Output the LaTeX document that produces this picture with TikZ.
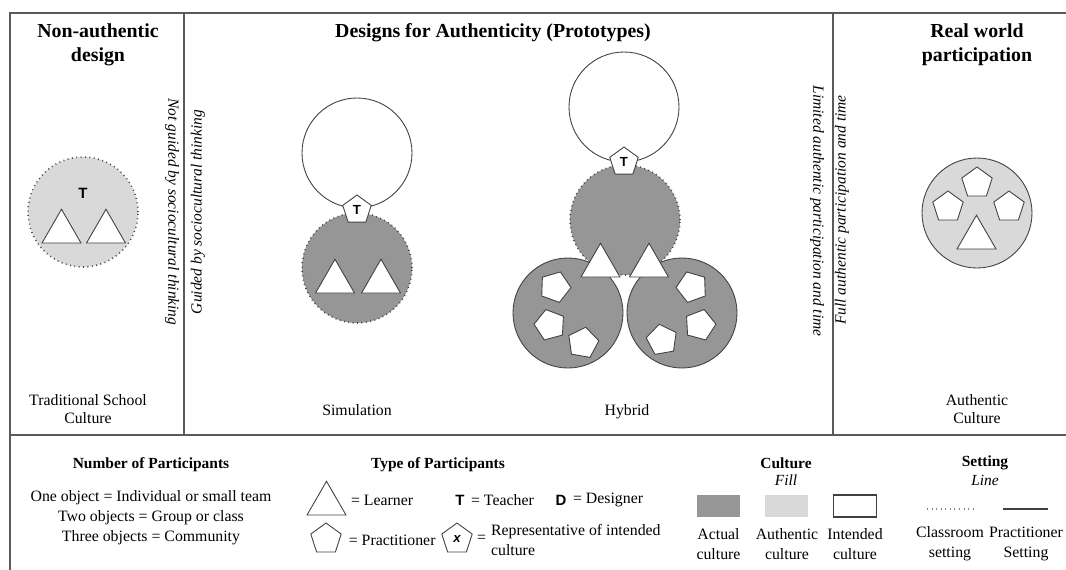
\documentclass[tikz,border=0pt]{standalone}
\usepackage{fontspec}
\setmainfont{Liberation Serif}
\newfontfamily\arialfont{Liberation Sans}
\definecolor{actualgrey}{RGB}{150, 150, 150}
\definecolor{authgrey}{RGB}{217, 217, 217}
\definecolor{framegrey}{RGB}{90, 90, 90}
\usetikzlibrary{shapes.geometric, positioning}

\begin{document}
\begin{tikzpicture}[
  lbl/.style={font=\fontsize{9}{10.2}\selectfont, align=center, inner sep=1pt},
  keytxt/.style={font=\fontsize{9}{11.3}\selectfont, align=center, inner sep=1pt},
  ttl/.style={font=\fontsize{11.3}{13.6}\selectfont\bfseries, align=center},
  hdr/.style={font=\fontsize{8.8}{10.5}\selectfont\bfseries},
  side/.style={font=\fontsize{8.8}{10}\selectfont\itshape},
  culture/.style={circle, minimum size=2.2cm, inner sep=0pt, draw=black!75, line width=0.5pt},
  actual/.style={culture, fill=actualgrey},
  authentic/.style={culture, fill=authgrey},
  intended/.style={culture, fill=white},
  classroom/.style={dotted, line width=0.9pt},
  learner/.style={regular polygon, regular polygon sides=3, minimum size=0.9cm, inner sep=0pt, draw=black!75, fill=white, line width=0.5pt},
  pract/.style={regular polygon, regular polygon sides=5, minimum size=0.6cm, inner sep=0pt, draw=black!75, fill=white, line width=0.5pt, font=\arialfont\bfseries\fontsize{7.5}{8}\selectfont},
  role/.style={font=\arialfont\bfseries\fontsize{8.5}{10}\selectfont, inner sep=1pt},
  keybox/.style={minimum width=0.86cm, minimum height=0.44cm, inner sep=0pt}
]
  \useasboundingbox (0, 0) rectangle (21.32, -11.4);

  % Frame
  \draw[framegrey, line width=0.7pt] (21.32, -0.26) -- (0.2, -0.26) -- (0.2, -11.4);
  \draw[framegrey, line width=0.7pt] (0.2, -8.7) -- (21.32, -8.7);
  \draw[framegrey, line width=0.7pt] (3.68, -0.26) -- (3.68, -8.7);
  \draw[framegrey, line width=0.7pt] (16.66, -0.26) -- (16.66, -8.7);

  % Titles
  \node[ttl] (ttlnon) at (1.96, -0.9) {Non-authentic\\design};
  \node[ttl] (ttldes) at (9.86, -0.66) {Designs for Authenticity (Prototypes)};
  \node[ttl] (ttlreal) at (19.54, -0.9) {Real world\\participation};

  % Rotated side texts
  \node[side, rotate=-90] (notguided) at (3.44, -4.24) {Not guided by sociocultural thinking};
  \node[side, rotate=90] (guided) at (3.96, -4.24) {Guided by sociocultural thinking};
  \node[side, rotate=-90] (limited) at (16.34, -4.22) {Limited authentic participation and time};
  \node[side, rotate=90] (full) at (16.84, -4.2) {Full authentic participation and time};

  % Traditional school culture
  \node[authentic, classroom] (tradcirc) at (1.66, -4.24) {};
  \node[role] (tradT) at (1.66, -3.86) {T};
  \node[learner] (tradL1) at (1.23, -4.635) {};
  \node[learner] (tradL2) at (2.12, -4.635) {};
  \node[lbl] (tradlbl) at (1.76, -8.18) {Traditional School\\Culture};

  % Simulation
  \node[intended] (simint) at (7.14, -3.06) {};
  \node[actual, classroom] (simact) at (7.14, -5.36) {};
  \node[pract] (simT) at (7.14, -4.2) {T};
  \node[learner] (simL1) at (6.7, -5.635) {};
  \node[learner] (simL2) at (7.62, -5.635) {};
  \node[lbl] (simlbl) at (7.14, -8.2) {Simulation};

  % Hybrid
  \node[intended] (hybint) at (12.48, -2.14) {};
  \node[actual, classroom] (hybact) at (12.5, -4.4) {};
  \node[actual] (hybleft) at (11.36, -6.26) {};
  \node[actual] (hybright) at (13.64, -6.26) {};
  \node[pract] (hybT) at (12.48, -3.24) {T};
  \node[learner] (hybL1) at (12.01, -5.315) {};
  \node[learner] (hybL2) at (12.98, -5.315) {};
  \node[pract, minimum size=0.64cm, shape border rotate=-20] (hybP1) at (11.1, -5.74) {};
  \node[pract, minimum size=0.64cm, shape border rotate=15] (hybP2) at (11.0, -6.5) {};
  \node[pract, minimum size=0.64cm, shape border rotate=-10] (hybP3) at (11.66, -6.86) {};
  \node[pract, minimum size=0.64cm, shape border rotate=20] (hybP4) at (13.84, -5.74) {};
  \node[pract, minimum size=0.64cm, shape border rotate=-15] (hybP5) at (14.0, -6.5) {};
  \node[pract, minimum size=0.64cm, shape border rotate=10] (hybP6) at (13.24, -6.8) {};
  \node[lbl] (hyblbl) at (12.54, -8.24) {Hybrid};

  % Real world participation
  \node[authentic] (realcirc) at (19.54, -4.26) {};
  \node[pract, minimum size=0.64cm] (realP1) at (19.54, -3.66) {};
  \node[pract, minimum size=0.64cm] (realP2) at (18.96, -4.14) {};
  \node[pract, minimum size=0.64cm] (realP3) at (20.18, -4.14) {};
  \node[learner] (realL) at (19.53, -4.755) {};
  \node[lbl] (reallbl) at (19.54, -8.18) {Authentic\\Culture};

  % Legend: number of participants
  \node[hdr] (numhead) at (3.02, -9.3) {Number of Participants};
  \node[keytxt] (numtxt) at (3.02, -10.36) {One object = Individual or small team\\Two objects = Group or class\\Three objects = Community};

  % Legend: type of participants
  \node[hdr] (typehead) at (8.76, -9.3) {Type of Participants};
  \node[learner] (keylearner) at (6.53, -10.075) {};
  \node[keytxt, anchor=west] (learnertxt) at (6.98, -10.0) {= Learner};
  \node[role] (keyT) at (9.2, -10.0) {T};
  \node[keytxt, anchor=west] (teachertxt) at (9.38, -10.0) {= Teacher};
  \node[role] (keyD) at (11.22, -10.0) {D};
  \node[keytxt, anchor=west] (designertxt) at (11.42, -10.0) {= Designer};
  \node[pract, minimum size=0.64cm] (keypract) at (6.52, -10.78) {};
  \node[keytxt, anchor=west, inner sep=0pt] (practtxt) at (6.97, -10.8) {= Practitioner};
  \node[pract, minimum size=0.64cm] (keyrep) at (9.14, -10.78) {\itshape x};
  \node[keytxt] (repeq) at (9.63, -10.78) {=};
  \node[keytxt, anchor=west, align=left] (reptxt) at (9.78, -10.8) {Representative of intended\\culture};

  % Legend: culture
  \node[hdr] (culthead) at (15.72, -9.26) {Culture};
  \node[keytxt, font=\fontsize{8.8}{10}\selectfont\itshape] (cultfill) at (15.72, -9.6) {Fill};
  \node[keybox, fill=actualgrey] (keyactual) at (14.37, -10.12) {};
  \node[keybox, fill=authgrey] (keyauth) at (15.73, -10.12) {};
  \node[keybox, draw=black!75, line width=0.6pt] (keyint) at (17.1, -10.12) {};
  \node[keytxt] (actualtxt) at (14.37, -10.88) {Actual\\culture};
  \node[keytxt] (authtxt) at (15.74, -10.88) {Authentic\\culture};
  \node[keytxt] (inttxt) at (17.1, -10.88) {Intended\\culture};

  % Legend: setting
  \node[hdr] (sethead) at (19.7, -9.26) {Setting};
  \node[keytxt, font=\fontsize{8.8}{10}\selectfont\itshape] (setline) at (19.7, -9.6) {Line};
  \coordinate (clsA) at (18.54, -10.18);
  \coordinate (clsB) at (19.46, -10.18);
  \coordinate (prcA) at (20.06, -10.18);
  \coordinate (prcB) at (20.96, -10.18);
  \draw[dotted, gray, line width=0.6pt] (clsA) -- (clsB);
  \draw[black!75, line width=0.7pt] (prcA) -- (prcB);
  \node[keytxt] (clstxt) at (19.0, -10.88) {Classroom\\setting};
  \node[keytxt] (prctxt) at (20.52, -10.88) {Practitioner\\Setting};
\end{tikzpicture}
\end{document}
